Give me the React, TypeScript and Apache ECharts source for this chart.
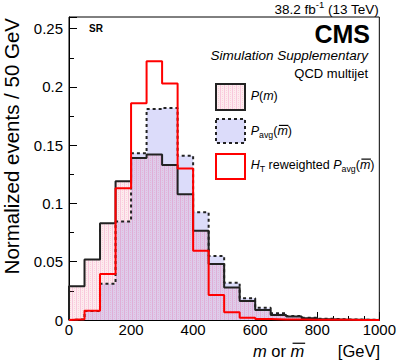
import React, { useEffect, useRef } from "react";
import * as echarts from "echarts";

// ---- data (bin width 50 GeV, left edges) ----
const binEdges = [0, 50, 100, 150, 200, 250, 300, 350, 400, 450, 500, 550, 600, 650, 700, 750, 800, 850, 900, 950];
const xMax = 1000;
const pM = [0.029, 0.052, 0.083, 0.119, 0.139, 0.142, 0.133, 0.108, 0.0765, 0.048, 0.0278, 0.0163, 0.0086, 0.0043, 0.0029, 0.0014, 0.0006, 0.0003, 0.0002, 0.0001];
const pAvg = [0.0005, 0.0078, 0.031, 0.0845, 0.143, 0.181, 0.182, 0.141, 0.0925, 0.055, 0.032, 0.0186, 0.0106, 0.0057, 0.0034, 0.002, 0.001, 0.0005, 0.0003, 0.0002];
const pHt = [0.0006, 0.008, 0.0395, 0.113, 0.186, 0.222, 0.203, 0.13, 0.0595, 0.0215, 0.0066, 0.002, 0.0008, 0.0005, 0.0004, 0.0003, 0.0002, 0.0002, 0.0001, 0.0001];
const yTickLabels = ["0", "0.05", "0.1", "0.15", "0.2", "0.25"];

const FONT = '"Liberation Sans", Arial, Helvetica, sans-serif';

type Run = { t: string; size: number; italic?: boolean; bold?: boolean; dy?: number; bar?: boolean };

let measureCtx: CanvasRenderingContext2D | null = null;
function measure(r: Run) {
  if (!measureCtx) measureCtx = document.createElement("canvas").getContext("2d");
  measureCtx!.font = `${r.italic ? "italic " : ""}${r.bold ? "bold " : ""}${r.size}px ${FONT}`;
  return measureCtx!.measureText(r.t).width;
}

function runs(x0: number, yMid: number, list: Run[], align: "left" | "right" = "left", color = "#000") {
  const widths = list.map(measure);
  const total = widths.reduce((a, b) => a + b, 0);
  let x = align === "right" ? x0 - total : x0;
  const els: any[] = [];
  list.forEach((r, i) => {
    els.push({
      type: "text",
      x,
      y: yMid + (r.dy || 0),
      silent: true,
      style: {
        text: r.t,
        fontSize: r.size,
        fontFamily: FONT,
        fontStyle: r.italic ? "italic" : "normal",
        fontWeight: r.bold ? "bold" : "normal",
        fill: color,
        align: "left",
        verticalAlign: "middle",
      },
    });
    if (r.bar) {
      const by = yMid + (r.dy || 0) - r.size * 0.47;
      els.push({
        type: "line",
        silent: true,
        shape: { x1: x + r.size * 0.12, y1: by, x2: x + widths[i] + r.size * 0.05, y2: by },
        style: { stroke: color, lineWidth: 1.2 },
      });
    }
    x += widths[i];
  });
  return els;
}

function steps(vals: number[]) {
  return [[0, 0], ...vals.map((v, i) => [binEdges[i], v]), [xMax, 0]];
}

export default function App() {
  const ref = useRef<HTMLDivElement>(null);
  useEffect(() => {
    document.body.style.margin = "0";
    if (!ref.current) return;
    const chart = echarts.init(ref.current, undefined, { renderer: "svg" });

    // dotted red hatch pattern
    const pc = document.createElement("canvas");
    pc.width = 4;
    pc.height = 4;
    const g = pc.getContext("2d")!;
    g.fillStyle = "rgba(240,90,120,0.12)";
    g.fillRect(0, 0, 4, 4);
    g.fillStyle = "rgba(225,60,140,0.2)";
    g.fillRect(0, 0, 1, 4);
    g.fillStyle = "rgba(240,80,110,0.16)";
    g.fillRect(2, 0, 1, 1);
    g.fillRect(2, 2, 1, 1);
    const pattern: any = { image: pc, repeat: "repeat" };

    const lavender = "#dcdcfa";
    const dark = "#222";
    const LS = 12.5;
    const SS = 8.8;

    const graphics: any[] = [
      ...runs(379, 9.5, [
        { t: "38.2 fb", size: 13.5 },
        { t: "-1", size: 9.5, dy: -5 },
        { t: " (13 TeV)", size: 13.5 },
      ], "right"),
      ...runs(370, 34, [{ t: "CMS", size: 25, bold: true }], "right"),
      ...runs(368, 55, [{ t: "Simulation Supplementary", size: 13.5, italic: true }], "right"),
      ...runs(368, 73, [{ t: "QCD multijet", size: 13 }], "right"),
      ...runs(89, 28.5, [{ t: "SR", size: 10, bold: true }]),
      // legend boxes
      { type: "rect", silent: true, shape: { x: 216, y: 84, width: 29, height: 26 }, style: { fill: "#fff", stroke: "none" } },
      { type: "rect", silent: true, shape: { x: 216, y: 84, width: 29, height: 26 }, style: { fill: pattern, stroke: dark, lineWidth: 2 } },
      { type: "rect", silent: true, shape: { x: 216, y: 119, width: 29, height: 24 }, style: { fill: lavender, stroke: dark, lineWidth: 2, lineDash: [3, 3] } },
      { type: "rect", silent: true, shape: { x: 216, y: 154, width: 29, height: 25 }, style: { fill: "#fff", stroke: "#ff0000", lineWidth: 2 } },
      ...runs(250.7, 96, [
        { t: "P", size: LS, italic: true },
        { t: "(", size: LS },
        { t: "m", size: LS, italic: true },
        { t: ")", size: LS },
      ]),
      ...runs(250.7, 131.3, [
        { t: "P", size: LS, italic: true },
        { t: "avg", size: SS, dy: 3.5 },
        { t: "(", size: LS },
        { t: "m", size: LS, italic: true, bar: true },
        { t: ")", size: LS },
      ]),
      ...runs(250.7, 165, [
        { t: "H", size: LS, italic: true },
        { t: "T", size: SS, dy: 3.5 },
        { t: " reweighted ", size: LS },
        { t: "P", size: LS, italic: true },
        { t: "avg", size: SS, dy: 3.5 },
        { t: "(", size: LS },
        { t: "m", size: LS, italic: true, bar: true },
        { t: ")", size: LS },
      ]),
      // x title
      ...runs(253, 351, [
        { t: "m", size: 16.5, italic: true },
        { t: " or ", size: 16.5 },
        { t: "m", size: 16.5, italic: true, bar: true },
      ]),
      ...runs(380, 351, [{ t: "[GeV]", size: 16.5 }], "right"),
      // y title
      {
        type: "text",
        silent: true,
        x: 11,
        y: 18,
        rotation: Math.PI / 2,
        style: {
          text: "Normalized events / 50 GeV",
          fontSize: 20.5,
          fontFamily: FONT,
          fill: "#000",
          align: "right",
          verticalAlign: "middle",
        },
      },
    ];

    const axisLabelStyle = { fontSize: 15, fontFamily: FONT, color: "#000" };

    chart.setOption({
      animation: false,
      backgroundColor: "#fff",
      grid: { left: 69, right: 19, top: 17, bottom: 44, show: true, borderColor: "#000", borderWidth: 1, backgroundColor: "transparent" },
      xAxis: {
        type: "value",
        min: 0,
        max: xMax,
        interval: 200,
        axisLine: { show: true, onZero: false, lineStyle: { color: "#000", width: 1 } },
        axisTick: { show: true, inside: true, length: 8, lineStyle: { color: "#000" } },
        minorTick: { show: true, splitNumber: 4, length: 4, lineStyle: { color: "#000" } },
        axisLabel: { ...axisLabelStyle, margin: 2, formatter: (v: number) => String(Math.round(v)) },
        splitLine: { show: false },
      },
      yAxis: [
        {
          type: "value",
          min: 0,
          max: 0.26,
          interval: 0.05,
          position: "left",
          axisLine: { show: true, onZero: false, lineStyle: { color: "#000", width: 1 } },
          axisTick: { show: true, inside: true, length: 8, lineStyle: { color: "#000" } },
          axisLabel: {
            ...axisLabelStyle,
            margin: 6,
            formatter: (v: number) => {
              const k = Math.round(v / 0.05);
              return Math.abs(v - k * 0.05) < 1e-6 && k < yTickLabels.length ? yTickLabels[k] : "";
            },
          },
          splitLine: { show: false },
        },
        {
          type: "value",
          min: 0,
          max: 0.26,
          interval: 0.025,
          position: "left",
          axisLine: { show: false },
          axisTick: { show: true, inside: true, length: 5, lineStyle: { color: "#000" } },
          axisLabel: { show: false },
          splitLine: { show: false },
        },
      ],
      series: [
        {
          type: "line", step: "end", data: steps(pAvg), symbol: "none", z: 2,
          lineStyle: { width: 0, opacity: 0 }, areaStyle: { color: lavender, opacity: 1 },
        },
        {
          type: "line", step: "end", data: steps(pM), symbol: "none", z: 3,
          lineStyle: { width: 0, opacity: 0 }, areaStyle: { color: pattern, opacity: 1 },
        },
        {
          type: "line", step: "end", data: steps(pM), symbol: "none", z: 4,
          lineStyle: { width: 2, color: dark },
        },
        {
          type: "line", step: "end", data: steps(pAvg), symbol: "none", z: 5,
          lineStyle: { width: 2, color: dark, type: [3, 3] },
        },
        {
          type: "line", step: "end", data: steps(pHt), symbol: "none", z: 6,
          lineStyle: { width: 2, color: "#ff0000" },
        },
      ],
      graphic: { elements: graphics },
    });
    return () => chart.dispose();
  }, []);
  return <div ref={ref} style={{ width: 399, height: 364 }} />;
}
